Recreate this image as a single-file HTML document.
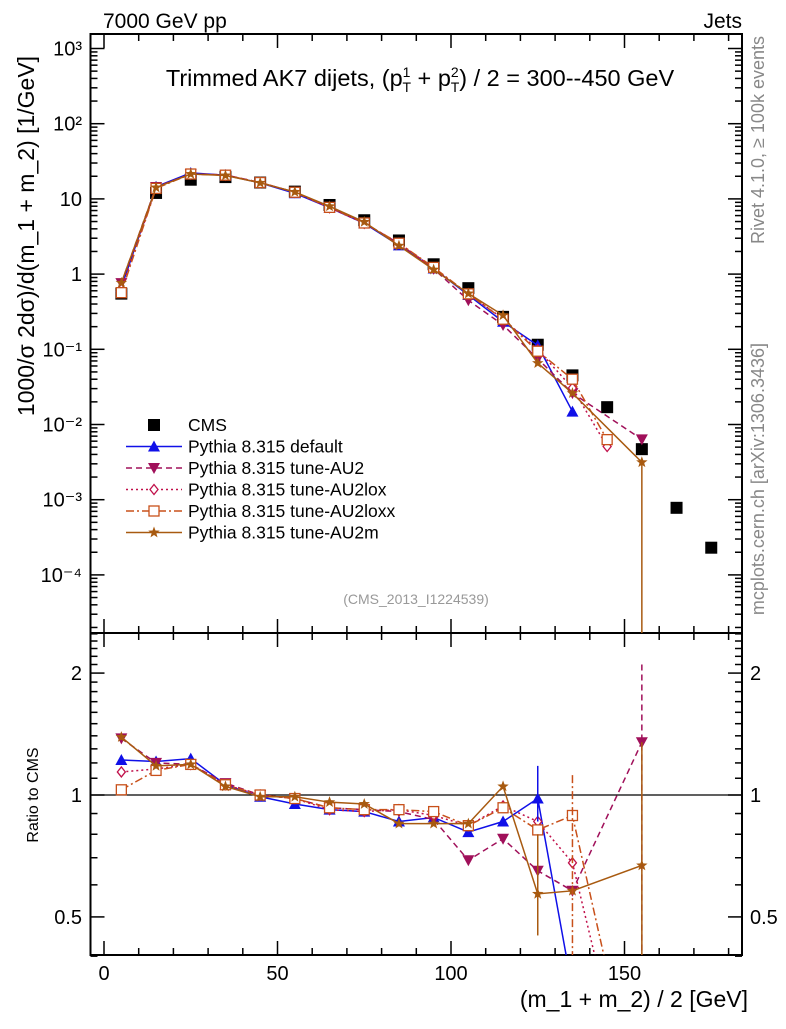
<!DOCTYPE html>
<html><head><meta charset="utf-8"><style>
body{margin:0;background:#fff}
svg text{font-family:"Liberation Sans",sans-serif}
</style></head><body>
<svg id="c" width="786" height="1024" xmlns="http://www.w3.org/2000/svg"></svg>
<script>
const xs=[5,15,25,35,45,55,65,75,85,95,105,115,125,135,145,155,165,175];
const cms=[0.55,12,18,19.5,16.5,12.5,8.3,5.2,2.8,1.35,0.65,0.27,0.115,0.045,0.017,0.0047,0.00078,0.00023];
const rDefault=[1.22,1.21,1.23,1.06,0.99,0.95,0.92,0.91,0.86,0.88,0.81,0.86,0.98,0.33,null,null,null,null];
const rAU2=[1.38,1.20,1.19,1.07,1.0,0.98,0.93,0.92,0.91,0.87,0.69,0.78,0.65,0.58,null,1.35,null,null];
const rAU2lox=[1.14,1.16,1.19,1.06,1.0,0.98,0.92,0.91,0.92,0.89,0.84,0.94,0.86,0.68,0.3,null,null,null];
const rAU2loxx=[1.03,1.15,1.19,1.06,1.0,0.98,0.93,0.92,0.92,0.91,0.84,0.93,0.82,0.89,0.37,null,null,null];
const rAU2m=[1.39,1.18,1.19,1.05,0.99,0.99,0.96,0.95,0.85,0.85,0.85,1.05,0.57,0.58,null,0.67,null,null];
const xTicks=[0,50,100,150];
const yTicks=[-4,-3,-2,-1,0,1,2,3];
const yTickLabels=["10\u207B\u2074","10\u207B\u00B3","10\u207B\u00B2","10\u207B\u00B9","1","10","10\u00B2","10\u00B3"];

const svg=document.getElementById('c');
const NS="http://www.w3.org/2000/svg";
function el(t,a,p){const e=document.createElementNS(NS,t);for(const k in a)e.setAttribute(k,a[k]);(p||svg).appendChild(e);return e;}
const L=90.5,R=742,T=34,MB=633,B=955;
const X=v=>104+v*3.47;
const Y=v=>48.5+(3-Math.log10(v))*75.2;
const RY=v=>795-Math.log10(v)*405;

let f1=el('rect',{x:L,y:T,width:R-L,height:MB-T,fill:'none',stroke:'#000','stroke-width':2});

let f2=el('rect',{x:L,y:MB,width:R-L,height:B-MB,fill:'none',stroke:'#000','stroke-width':2});


for(let v=0;v<=180;v+=10){const maj=v%50===0;const x=X(v);
 for(const [yb,yt] of [[B,MB],[MB,T]]){
  el('line',{x1:x,x2:x,y1:yb,y2:yb-(maj?14:7),stroke:'#000','stroke-width':1.5});
  el('line',{x1:x,x2:x,y1:yt,y2:yt+(maj?14:7),stroke:'#000','stroke-width':1.5});}}
xTicks.forEach(v=>{const t=el('text',{x:X(v),y:980,'font-size':20,'text-anchor':'middle'});t.textContent=v;
 });
let xt=el('text',{x:748,y:1007,'font-size':23,'text-anchor':'end'});xt.textContent='(m_1 + m_2) / 2 [GeV]';


for(let d=-5;d<=3;d++){for(let m=1;m<10;m++){const v=m*Math.pow(10,d);const y=Y(v);if(y<T||y>MB)continue;
 const len=m===1?14:7;
 el('line',{x1:L,x2:L+len,y1:y,y2:y,stroke:'#000','stroke-width':1.5});
 el('line',{x1:R,x2:R-len,y1:y,y2:y,stroke:'#000','stroke-width':1.5});}}
yTicks.forEach((d,i)=>{const t=el('text',{x:82,y:Y(Math.pow(10,d))+7,'font-size':20,'text-anchor':'end'});t.textContent=yTickLabels[i];
 });
let yt=el('text',{transform:'translate(34,236) rotate(-90)','font-size':23,'text-anchor':'middle'});
yt.setAttribute('xml:space','preserve');
yt.textContent='1000/\u03C3    2d\u03C3)/d(m_1 + m_2) [1/GeV]';


[0.4,0.5,0.6,0.7,0.8,0.9,1,1.1,1.2,1.3,1.4,1.5,1.6,1.7,1.8,1.9,2,2.1,2.2,2.3,2.4,2.5].forEach(v=>{const y=RY(v);if(y<MB)return;
 const len=(v===0.5||v===1||v===2)?14:7;
 el('line',{x1:L,x2:L+len,y1:y,y2:y,stroke:'#000','stroke-width':1.5});
 el('line',{x1:R,x2:R-len,y1:y,y2:y,stroke:'#000','stroke-width':1.5});});
[[0.5,'0.5'],[1,'1'],[2,'2']].forEach(([v,s])=>{
 let t=el('text',{x:82,y:RY(v)+7,'font-size':20,'text-anchor':'end'});t.textContent=s;
 
 t=el('text',{x:750,y:RY(v)+7,'font-size':20});t.textContent=s;
 });
let rt=el('text',{transform:'translate(38,795) rotate(-90)','font-size':16,'text-anchor':'middle'});rt.textContent='Ratio to CMS';

el('line',{x1:L,x2:R,y1:RY(1),y2:RY(1),stroke:'#000','stroke-width':1.2});

let tt=el('text',{x:103,y:28,'font-size':21});tt.textContent='7000 GeV pp';

tt=el('text',{x:742,y:28,'font-size':21,'text-anchor':'end'});tt.textContent='Jets';

tt=el('text',{x:420,y:86,'font-size':23.5,'text-anchor':'middle'});
tt.innerHTML='Trimmed AK7 dijets, (p<tspan font-size="14" dy="-9">1</tspan><tspan font-size="14" dx="-8" dy="15">T</tspan><tspan dy="-6"> + p</tspan><tspan font-size="14" dy="-9">2</tspan><tspan font-size="14" dx="-8" dy="15">T</tspan><tspan dy="-6">) / 2 = 300--450 GeV</tspan>';

tt=el('text',{x:416,y:604,'font-size':14,'text-anchor':'middle',fill:'#999'});tt.textContent='(CMS_2013_I1224539)';

tt=el('text',{transform:'translate(764,36) rotate(-90)','font-size':18,'text-anchor':'end',fill:'#888'});tt.textContent='Rivet 4.1.0, \u2265 100k events';

tt=el('text',{transform:'translate(764,343) rotate(-90)','font-size':18,'text-anchor':'end',fill:'#888'});tt.textContent='mcplots.cern.ch [arXiv:1306.3436]';


function marker(type,x,y,c,g){
 if(type==='sq')return el('rect',{x:x-6,y:y-6,width:12,height:12,fill:'#000'},g);
 if(type==='tu')return el('polygon',{points:`${x},${y-6} ${x-6},${y+5} ${x+6},${y+5}`,fill:c},g);
 if(type==='td')return el('polygon',{points:`${x},${y+6} ${x-6},${y-5} ${x+6},${y-5}`,fill:c},g);
 if(type==='di')return el('polygon',{points:`${x},${y-5} ${x-4},${y} ${x},${y+5} ${x+4},${y}`,fill:'#fff',stroke:c,'stroke-width':1.3},g);
 if(type==='os')return el('rect',{x:x-5,y:y-5,width:10,height:10,fill:'#fff',stroke:c,'stroke-width':1.3},g);
 if(type==='st'){let p=[];for(let i=0;i<10;i++){const r=i%2?2.5:6;const a=-Math.PI/2+i*Math.PI/5;p.push((x+r*Math.cos(a))+','+(y+r*Math.sin(a)));}
  return el('polygon',{points:p.join(' '),fill:c},g);}}

const gc=el('g',{});
xs.forEach((x,i)=>{const m=marker('sq',X(x),Y(cms[i]),'#000',gc);});

const series=[
 {n:'default',r:rDefault,c:'#1010e8',dash:'',m:'tu'},
 {n:'tune-AU2',r:rAU2,c:'#a0105a',dash:'6,4',m:'td'},
 {n:'tune-AU2lox',r:rAU2lox,c:'#c0104a',dash:'2,3',m:'di'},
 {n:'tune-AU2loxx',r:rAU2loxx,c:'#c8501a',dash:'8,3,2,3',m:'os'},
 {n:'tune-AU2m',r:rAU2m,c:'#a85a10',dash:'',m:'st'}];

const cp=el('clipPath',{id:'cm'});el('rect',{x:L,y:T,width:R-L,height:MB-T},cp);
const cr=el('clipPath',{id:'cr'});el('rect',{x:L,y:MB,width:R-L,height:B-MB},cr);
series.forEach(s=>{
 const gm=el('g',{'clip-path':'url(#cm)'});
 const gr=el('g',{'clip-path':'url(#cr)'});
 let pm=[],pr=[];
 xs.forEach((x,i)=>{const r=s.r[i];if(r==null)return;pm.push([X(x),Y(r*cms[i])]);pr.push([X(x),RY(r)]);});
 const line=(pts,g)=>el('polyline',{points:pts.map(p=>p.join(',')).join(' '),fill:'none',stroke:s.c,'stroke-width':1.5,'stroke-dasharray':s.dash},g);
 line(pm,gm);line(pr,gr);
 pm.forEach(p=>{const m=marker(s.m,p[0],p[1],s.c,gm);});
 pr.forEach(p=>{const m=marker(s.m,p[0],p[1],s.c,gr);});
});
el('line',{x1:X(155),x2:X(155),y1:Y(0.0047*0.67),y2:MB,stroke:'#a85a10','stroke-width':1.5});
el('line',{x1:X(155),x2:X(155),y1:RY(2.1),y2:B,stroke:'#a0105a','stroke-width':1.5,'stroke-dasharray':'6,4'});
el('line',{x1:X(155),x2:X(155),y1:RY(1.35),y2:B,stroke:'#a85a10','stroke-width':1.5});
el('line',{x1:X(125),x2:X(125),y1:RY(1.18),y2:RY(0.86),stroke:'#1010e8','stroke-width':1.5});
el('line',{x1:X(135),x2:X(135),y1:RY(1.12),y2:B,stroke:'#c8501a','stroke-width':1.5,'stroke-dasharray':'8,3,2,3'});
el('line',{x1:X(125),x2:X(125),y1:RY(0.8),y2:RY(0.45),stroke:'#a85a10','stroke-width':1.5});

const lg=el('g',{});
const ly0=425,ld=21.5;
marker('sq',154,ly0,'#000',lg);
let t0=el('text',{x:188,y:ly0+6,'font-size':17.5},lg);t0.textContent='CMS';
series.forEach((s,i)=>{const y=ly0+ld*(i+1);
 el('line',{x1:126,x2:182,y1:y,y2:y,stroke:s.c,'stroke-width':1.5,'stroke-dasharray':s.dash},lg);
 marker(s.m,154,y,s.c,lg);
 const t=el('text',{x:188,y:y+6,'font-size':17.5},lg);t.textContent='Pythia 8.315 '+s.n;
 });
</script>
</body></html>
